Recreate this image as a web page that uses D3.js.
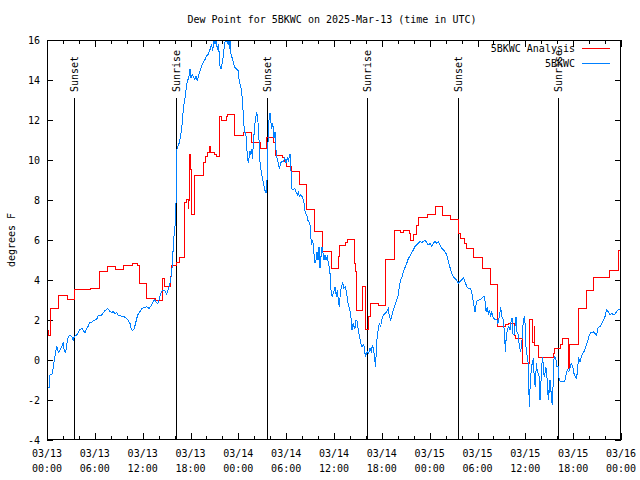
<!DOCTYPE html>
<html><head><meta charset="utf-8">
<script src="https://cdn.jsdelivr.net/npm/d3@7"></script>
<style>
html,body{margin:0;padding:0;background:#fff;}
svg{display:block;}
text{font-family:"DejaVu Sans Mono",monospace;font-size:10px;fill:#000;}
</style></head>
<body>
<svg id="chart" width="640" height="480"></svg>
<script>
const chartTitle = "Dew Point for 5BKWC on 2025-Mar-13 (time in UTC)";
const yLabel = "degrees F";
const seriesNames = ["5BKWC Analysis", "5BKWC"];
const seriesColors = ["#ff0000", "#0080ff"];
const startUtc = Date.UTC(2025, 2, 13, 0, 0);
const endUtc = Date.UTC(2025, 2, 16, 0, 0);
const yTicks = [-4, -2, 0, 2, 4, 6, 8, 10, 12, 14, 16];

const sunLabels = ["Sunset", "Sunrise", "Sunset", "Sunrise", "Sunset", "Sunrise"];
const sunHours = [3.39, 16.18, 27.55, 40.18, 51.60, 64.14];

// Analysis (stepped) series: hour offset where each level starts, and level
const redHours = [0,0.2,0.4,0.5,1.44,2.55,3.51,5.48,6.56,7.56,8.57,9.57,10.70,11.29,11.58,12.51,13.55,14.49,14.80,15.49,15.64,16.24,16.68,17.19,17.31,17.52,17.69,17.81,17.90,18.0,18.15,18.56,19.57,19.94,20.13,20.36,20.57,20.95,21.2,21.61,21.91,22.52,22.70,23.52,24.62,25.65,26.72,27.56,28.47,28.69,29.48,29.85,30.1,30.61,30.89,31.65,32.58,33.55,34.62,35.66,36.56,36.75,37.38,37.67,38.57,38.70,38.85,39.58,39.95,40.39,40.58,41.56,42.52,43.59,44.34,44.66,45.41,45.60,45.91,46.29,46.57,47.70,48.67,49.64,50.61,51.56,51.62,51.81,52.37,52.65,53.56,54.63,55.66,56.51,57.45,57.83,58.58,58.77,59.65,60.55,60.92,61.09,61.21,61.59,63.53,63.72,64.35,64.66,65.44,65.60,66.61,67.64,68.55,70.50,71.63,72];
const redValues = [1.5,1.25,2.0,2.58,3.23,3.03,3.53,3.58,4.45,4.67,4.53,4.73,4.83,4.75,3.83,3.07,3.0,4.07,3.7,4.17,4.73,4.87,5.15,6.53,7.87,8.03,7.6,8.0,10.28,9.53,7.28,9.23,9.87,10.2,10.4,10.7,10.37,10.3,10.2,12.2,12.0,12.2,12.27,11.25,11.37,10.9,10.6,11.15,10.87,10.25,10.13,9.92,9.67,9.42,9.45,8.8,7.53,6.42,5.42,4.58,5.2,5.75,5.87,6.05,4.83,4.42,2.47,3.67,1.53,2.17,2.83,2.73,5.03,6.5,6.4,6.5,6.35,6.0,6.3,6.75,7.13,7.3,7.7,7.25,7.03,6.75,6.33,6.08,5.85,5.58,5.12,4.58,3.78,1.7,1.8,1.83,1.25,1.08,-0.17,2.03,0.9,1.7,0.75,0.13,0.33,0.58,0.8,1.08,-0.4,0.8,2.58,3.47,4.13,4.47,5.47,5.47];

// Station series
const blueHours = [0,0.04,0.25,0.38,0.67,0.92,1.09,1.25,1.42,1.63,1.84,2.05,2.17,2.34,2.51,2.67,2.89,3.09,3.30,3.42,3.72,3.93,4.14,4.43,4.55,4.77,4.98,5.18,5.39,5.61,6.02,6.23,6.44,6.86,7.06,7.28,7.61,7.90,8.11,8.32,8.53,8.74,8.95,9.16,9.37,9.57,9.78,10.00,10.20,10.41,10.54,10.70,10.95,11.13,11.37,11.67,11.88,12.29,12.51,12.79,13.05,13.21,13.46,13.64,13.89,14.05,14.30,14.46,14.80,15.01,15.22,15.43,15.64,15.77,15.93,16.06,16.18,16.22,16.34,16.60,16.77,16.90,17.02,17.10,17.27,17.44,17.60,17.77,17.94,18.06,18.19,18.35,18.53,18.69,18.85,19.03,19.19,19.40,19.61,19.82,20.03,20.23,20.45,20.66,20.78,20.95,21.07,21.20,21.36,21.49,21.61,21.70,21.83,21.95,22.11,22.24,22.37,22.45,22.62,22.74,22.87,22.96,23.08,23.21,23.37,23.58,23.80,24.00,24.12,24.30,24.42,24.55,24.62,24.71,24.84,24.96,25.05,25.13,25.25,25.38,25.46,25.59,25.68,25.80,25.88,26.00,26.13,26.31,26.43,26.51,26.64,26.72,26.84,26.97,27.13,27.31,27.47,27.56,27.64,27.72,27.81,27.97,28.06,28.19,28.31,28.39,28.47,28.60,28.72,28.89,29.01,29.14,29.31,29.48,29.64,29.81,29.98,30.14,30.27,30.48,30.57,30.69,30.89,31.07,31.23,31.40,31.52,31.65,31.82,31.99,32.15,32.28,32.40,32.58,32.70,32.83,32.99,33.08,33.20,33.33,33.41,33.49,33.62,33.74,33.87,34.00,34.12,34.24,34.37,34.50,34.62,34.75,34.87,35.00,35.16,35.29,35.41,35.54,35.66,35.79,35.91,36.04,36.16,36.29,36.41,36.54,36.67,36.79,36.92,37.09,37.25,37.42,37.59,37.76,37.92,38.09,38.26,38.39,38.51,38.63,38.76,38.92,39.05,39.18,39.30,39.43,39.55,39.68,39.80,39.93,40.05,40.18,40.35,40.52,40.68,40.80,40.93,41.10,41.18,41.27,41.36,41.56,41.68,41.86,41.98,42.19,42.40,42.61,42.81,42.94,43.11,43.28,43.44,43.65,43.86,44.07,44.19,44.37,44.53,44.69,44.91,45.12,45.32,45.53,45.75,45.95,46.16,46.37,46.57,46.79,47.00,47.20,47.42,47.63,47.83,48.04,48.26,48.46,48.67,48.88,49.08,49.30,49.51,49.71,49.92,50.14,50.34,50.55,50.76,50.96,51.18,51.39,51.59,51.81,52.02,52.22,52.43,52.65,52.85,53.06,53.27,53.47,53.69,53.81,53.98,54.23,54.40,54.56,54.73,54.90,54.98,55.07,55.23,55.36,55.48,55.66,55.78,55.91,56.07,56.24,56.41,56.57,56.73,56.91,57.07,57.24,57.41,57.49,57.58,57.74,57.91,58.08,58.24,58.33,58.41,58.58,58.74,58.83,58.92,59.08,59.25,59.42,59.58,59.75,59.92,60.00,60.08,60.17,60.33,60.42,60.50,60.58,60.67,60.75,60.88,61.00,61.13,61.25,61.38,61.50,61.63,61.75,61.84,61.93,62.05,62.18,62.30,62.43,62.55,62.68,62.80,62.93,63.01,63.09,63.18,63.26,63.35,63.43,63.51,63.60,63.72,63.85,63.97,64.10,64.19,64.26,64.44,64.69,64.94,65.10,65.27,65.44,65.60,65.77,65.94,66.10,66.27,66.44,66.57,66.69,66.86,67.03,67.19,67.36,67.53,67.69,67.86,68.03,68.19,68.36,68.53,68.74,68.95,69.12,69.37,69.58,69.79,69.99,70.12,70.20,70.41,70.62,70.83,71.04,71.25,71.45,71.66,71.88,72.00];
const blueValues = [-1.83,-1.37,-1.40,-0.75,-0.70,0.00,0.42,0.67,0.37,0.50,0.67,0.87,0.42,0.37,0.83,1.17,1.25,1.17,1.00,1.17,1.25,1.37,1.53,1.58,1.47,1.37,1.58,1.70,1.90,1.90,2.00,2.03,2.25,2.25,2.37,2.47,2.57,2.42,2.37,2.42,2.33,2.37,2.20,2.25,2.17,2.20,2.13,2.08,1.97,1.83,1.58,1.47,1.58,1.87,2.25,2.42,2.58,2.63,2.67,2.58,2.70,2.83,3.03,2.92,2.83,3.00,3.37,3.47,3.47,3.30,3.53,3.87,4.30,5.20,6.20,6.70,7.60,10.45,10.60,10.87,11.20,11.62,12.05,12.62,12.95,13.53,13.95,14.10,14.53,14.10,14.27,14.20,14.03,14.20,13.95,14.27,14.43,14.70,14.87,15.03,15.20,15.28,15.53,15.78,15.45,16.00,15.80,16.20,15.50,15.80,15.28,14.70,14.53,14.78,15.20,15.70,16.00,16.20,15.80,16.20,15.53,15.95,15.28,15.12,14.87,14.62,14.53,14.45,13.87,13.70,13.37,12.87,12.20,11.70,11.37,11.20,10.70,10.20,9.87,10.20,10.45,10.28,10.53,10.03,11.03,11.37,12.03,12.37,12.20,11.53,10.70,9.87,9.53,9.20,8.87,8.50,8.37,8.50,9.53,10.87,11.87,12.37,12.00,11.53,11.87,11.53,11.10,11.40,10.50,10.00,9.87,9.53,9.87,9.92,9.92,10.08,9.87,10.10,9.95,10.30,9.87,8.58,8.50,8.58,8.42,8.25,8.42,8.17,8.27,8.17,8.00,7.75,7.33,7.25,7.00,6.92,6.75,6.17,5.75,6.00,5.67,5.33,4.83,5.00,5.42,5.00,5.67,4.58,5.17,5.67,5.33,5.00,5.25,5.00,5.17,4.83,4.67,4.17,3.25,3.20,3.33,3.50,3.67,3.17,3.50,3.00,2.63,3.33,3.67,3.87,3.58,3.67,3.33,2.83,2.58,2.33,1.50,1.83,1.67,1.58,2.00,1.92,1.50,1.17,1.00,0.70,0.67,0.75,0.67,0.17,0.30,0.42,0.33,0.58,0.42,0.75,0.58,0.17,-0.33,0.17,0.92,1.58,1.83,1.67,2.00,2.25,2.33,2.42,2.58,2.17,2.00,2.25,2.50,2.75,3.00,3.25,3.67,4.00,4.17,4.42,4.63,4.83,5.07,5.20,5.37,5.50,5.67,5.75,5.83,5.92,5.87,5.92,6.00,5.87,5.75,5.83,5.70,5.83,5.92,5.83,5.90,5.75,5.58,5.50,5.42,5.25,4.92,4.63,4.33,4.17,4.08,4.00,3.83,3.92,4.00,4.13,3.92,3.67,3.58,3.58,3.42,2.92,2.42,2.75,3.00,3.00,3.03,3.08,3.17,3.20,2.75,2.42,2.67,2.25,2.50,2.17,2.42,2.17,2.08,2.00,2.03,1.83,2.17,2.63,2.17,2.00,1.17,0.42,1.00,1.50,1.67,1.50,2.00,2.08,1.33,1.25,1.83,2.17,1.42,1.33,0.67,0.42,1.00,2.00,2.20,1.50,0.67,0.33,0.00,-1.17,-2.33,-1.50,-1.00,-0.33,-0.17,0.08,-1.00,-1.33,-0.17,-0.58,-0.67,-0.83,-2.00,-1.33,-0.33,0.17,-0.67,-0.83,-0.33,-0.58,-1.58,-2.00,-1.00,-1.67,-1.00,-2.17,-1.50,-2.25,-0.50,0.08,0.17,0.00,-0.33,-0.33,-0.83,-1.00,-1.08,-1.08,-1.08,-0.75,-0.50,-0.58,-0.42,-0.17,-0.33,-0.67,-0.83,-0.92,-0.33,0.08,-0.08,0.17,0.33,0.42,0.58,0.80,1.00,1.25,1.37,1.37,1.42,1.33,1.25,1.63,1.67,1.83,2.00,2.17,2.42,2.50,2.42,2.25,2.33,2.25,2.30,2.42,2.50,2.53,2.50];

const toDate = h => new Date(startUtc + h * 3600e3);
const redData = redHours.map((h, i) => ({t: toDate(h), v: redValues[i]}));
const blueData = blueHours.map((h, i) => ({t: toDate(h), v: blueValues[i]}));

const svg = d3.select("#chart");
const L = 47, R = 621, T = 40, B = 440;
const x = d3.scaleUtc().domain([new Date(startUtc), new Date(endUtc)]).range([L, R]);
const y = d3.scaleLinear().domain([-4, 16]).range([B, T]);

svg.append("rect").attr("width", 640).attr("height", 480).attr("fill", "#fff");

svg.append("defs").append("clipPath").attr("id", "clip")
  .append("rect").attr("x", L).attr("y", T).attr("width", R - L).attr("height", B - T);

// axes (ticks point inward, mirrored)
const xTickVals = d3.utcHour.every(2).range(new Date(startUtc), new Date(endUtc + 1));
const xMajor = d3.utcHour.every(6).range(new Date(startUtc), new Date(endUtc + 1));
const fmtDay = d3.utcFormat("%m/%d"), fmtHour = d3.utcFormat("%H:%M");

const bottomAxis = d3.axisBottom(x).tickValues(xTickVals).tickSizeInner(-4).tickSizeOuter(0).tickFormat("");
const topAxis = d3.axisTop(x).tickValues(xTickVals).tickSizeInner(-4).tickSizeOuter(0).tickFormat("");
const gb = svg.append("g").attr("transform", `translate(0,${B})`).call(bottomAxis);
const gt = svg.append("g").attr("transform", `translate(0,${T})`).call(topAxis);
[gb, gt].forEach(g => { g.select(".domain").remove(); g.selectAll("line").attr("stroke", "#000").attr("shape-rendering", "crispEdges"); });
gb.selectAll(".tick line").attr("y2", d => (d.getUTCHours() % 6 === 0 ? -7 : -4));
gt.selectAll(".tick line").attr("y2", d => (d.getUTCHours() % 6 === 0 ? 7 : 4));

const leftAxis = d3.axisLeft(y).tickValues(yTicks).tickSizeInner(-6).tickSizeOuter(0).tickFormat("");
const rightAxis = d3.axisRight(y).tickValues(yTicks).tickSizeInner(-6).tickSizeOuter(0).tickFormat("");
const gl = svg.append("g").attr("transform", `translate(${L},0)`).call(leftAxis);
const gr = svg.append("g").attr("transform", `translate(${R},0)`).call(rightAxis);
[gl, gr].forEach(g => { g.select(".domain").remove(); g.selectAll("line").attr("stroke", "#000").attr("shape-rendering", "crispEdges"); });

// tick labels
svg.append("g").selectAll("text").data(yTicks).join("text")
  .attr("x", L - 7).attr("y", d => y(d)).attr("dy", "0.35em")
  .attr("text-anchor", "end").text(d => d);
const xl = svg.append("g").selectAll("text").data(xMajor).join("text")
  .attr("text-anchor", "middle");
xl.append("tspan").attr("x", d => x(d)).attr("y", 457).text(d => fmtDay(d));
xl.append("tspan").attr("x", d => x(d)).attr("y", 472).text(d => fmtHour(d));

// sunrise / sunset markers
const sun = svg.append("g");
sun.selectAll("line").data(sunHours).join("line")
  .attr("x1", h => Math.round(x(toDate(h))) + 0.5).attr("x2", h => Math.round(x(toDate(h))) + 0.5)
  .attr("y1", y(13.1)).attr("y2", B)
  .attr("stroke", "#000").attr("shape-rendering", "crispEdges");
sun.selectAll("text").data(sunHours).join("text")
  .attr("transform", h => `translate(${Math.round(x(toDate(h))) + 4},${y(13.4)}) rotate(-90)`)
  .attr("text-anchor", "start").text((h, i) => sunLabels[i]);

// data lines
const plot = svg.append("g").attr("clip-path", "url(#clip)");
plot.append("path").datum(redData)
  .attr("d", d3.line().x(d => x(d.t)).y(d => y(d.v)).curve(d3.curveStepAfter))
  .attr("fill", "none").attr("stroke", seriesColors[0]).attr("stroke-width", 1)
  .attr("shape-rendering", "crispEdges");
plot.append("path").datum(blueData)
  .attr("d", d3.line().x(d => x(d.t)).y(d => y(d.v)))
  .attr("fill", "none").attr("stroke", seriesColors[1]).attr("stroke-width", 1)
  .attr("shape-rendering", "crispEdges");

// border
svg.append("rect").attr("x", L + 0.5).attr("y", T + 0.5).attr("width", R - L - 1).attr("height", B - T - 1)
  .attr("fill", "none").attr("stroke", "#000").attr("shape-rendering", "crispEdges");

// legend
const lg = svg.append("g");
seriesNames.forEach((name, i) => {
  const ly = 48 + i * 15;
  lg.append("text").attr("x", 575).attr("y", ly).attr("dy", "0.35em").attr("text-anchor", "end").text(name);
  lg.append("line").attr("x1", 582).attr("x2", 610).attr("y1", ly + 0.5).attr("y2", ly + 0.5)
    .attr("stroke", seriesColors[i]).attr("shape-rendering", "crispEdges");
});

// title and y label
svg.append("text").attr("x", 332).attr("y", 19).attr("dy", "0.35em").attr("text-anchor", "middle").text(chartTitle);
svg.append("text").attr("transform", "translate(11,240) rotate(-90)").attr("dy", "0.35em")
  .attr("text-anchor", "middle").text(yLabel);
</script>
</body></html>
